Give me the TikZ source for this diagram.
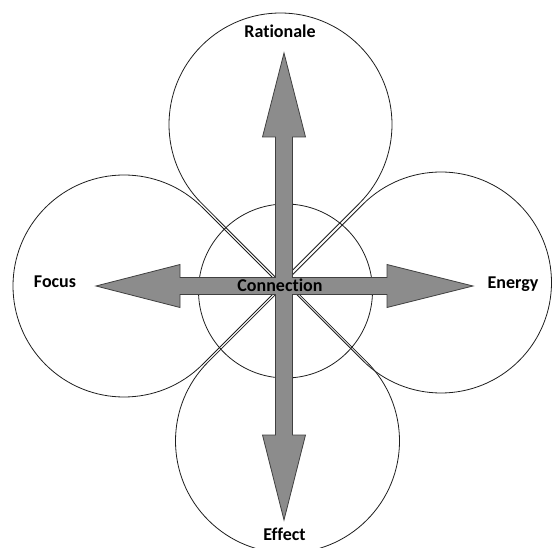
\documentclass[tikz,border=0pt]{standalone}
\usepackage{fontspec}
\setmainfont{Carlito}[Ligatures=NoCommon]
\definecolor{arrowfill}{RGB}{140,140,140}
\definecolor{arrowline}{RGB}{64,64,64}
\definecolor{petalline}{RGB}{30,30,30}
\tikzset{
  petal/.style={draw=petalline, line width=0.8pt},
  quadarrow/.style={draw=arrowline, fill=arrowfill, line width=0.8pt, line join=miter},
  lbl/.style={font=\fontsize{18}{20}\selectfont\bfseries, text=black, inner sep=0pt, anchor=base}
}
\begin{document}
\begin{tikzpicture}[x=1pt,y=1pt]
\useasboundingbox (0,0) rectangle (552,547);
\begin{scope}
\clip (0,0) rectangle (552,547);
% centres of the petals
\coordinate (ct) at (280.5,422.5);
\coordinate (cl) at (124,261);
\coordinate (cr) at (441,264.5);
\coordinate (cb) at (287.5,106);
% tips of the petals
\coordinate (tt) at (280.5,264.8);
\coordinate (tl) at (281,261);
\coordinate (tr) at (284.7,264.5);
\coordinate (tb) at (287.5,264.4);
% top petal
\draw[petal] (tt) -- ([shift={(-45:111.5pt)}]ct) arc[start angle=-45, end angle=225, radius=111.5pt] -- cycle;
% left petal
\draw[petal] (tl) -- ([shift={(45:111pt)}]cl) arc[start angle=45, end angle=315, radius=111pt] -- cycle;
% right petal
\draw[petal] (tr) -- ([shift={(225:110.5pt)}]cr) arc[start angle=225, end angle=495, radius=110.5pt] -- cycle;
% bottom petal
\draw[petal] (tb) -- ([shift={(135:112pt)}]cb) arc[start angle=135, end angle=405, radius=112pt] -- cycle;
\end{scope}
% central circle
\coordinate (cc) at (285.5,256);
\draw[petal] (cc) circle[radius=87pt];
% quad arrow
\draw[quadarrow] (284,494) -- (305.5,410) -- (292.5,410) -- (292.5,269.5) -- (387,269.5) -- (387,282.5)
  -- (473,261) -- (387,239.5) -- (387,252.5) -- (292.5,252.5) -- (292.5,112) -- (305.5,112)
  -- (284,27) -- (262.5,112) -- (275.5,112) -- (275.5,252.5) -- (180,252.5) -- (180,239.5)
  -- (96,261) -- (180,282.5) -- (180,269.5) -- (275.5,269.5) -- (275.5,410) -- (262.5,410) -- cycle;
% labels
\node[lbl] (rationale) at (280,509) {Rationale};
\node[lbl] (focus) at (55,259) {Focus};
\node[lbl] (energy) at (513,258) {Energy};
\node[lbl] (connection) at (280,255) {Connection};
\node[lbl] (effect) at (284.5,6.5) {Effect};
\end{tikzpicture}
\end{document}
